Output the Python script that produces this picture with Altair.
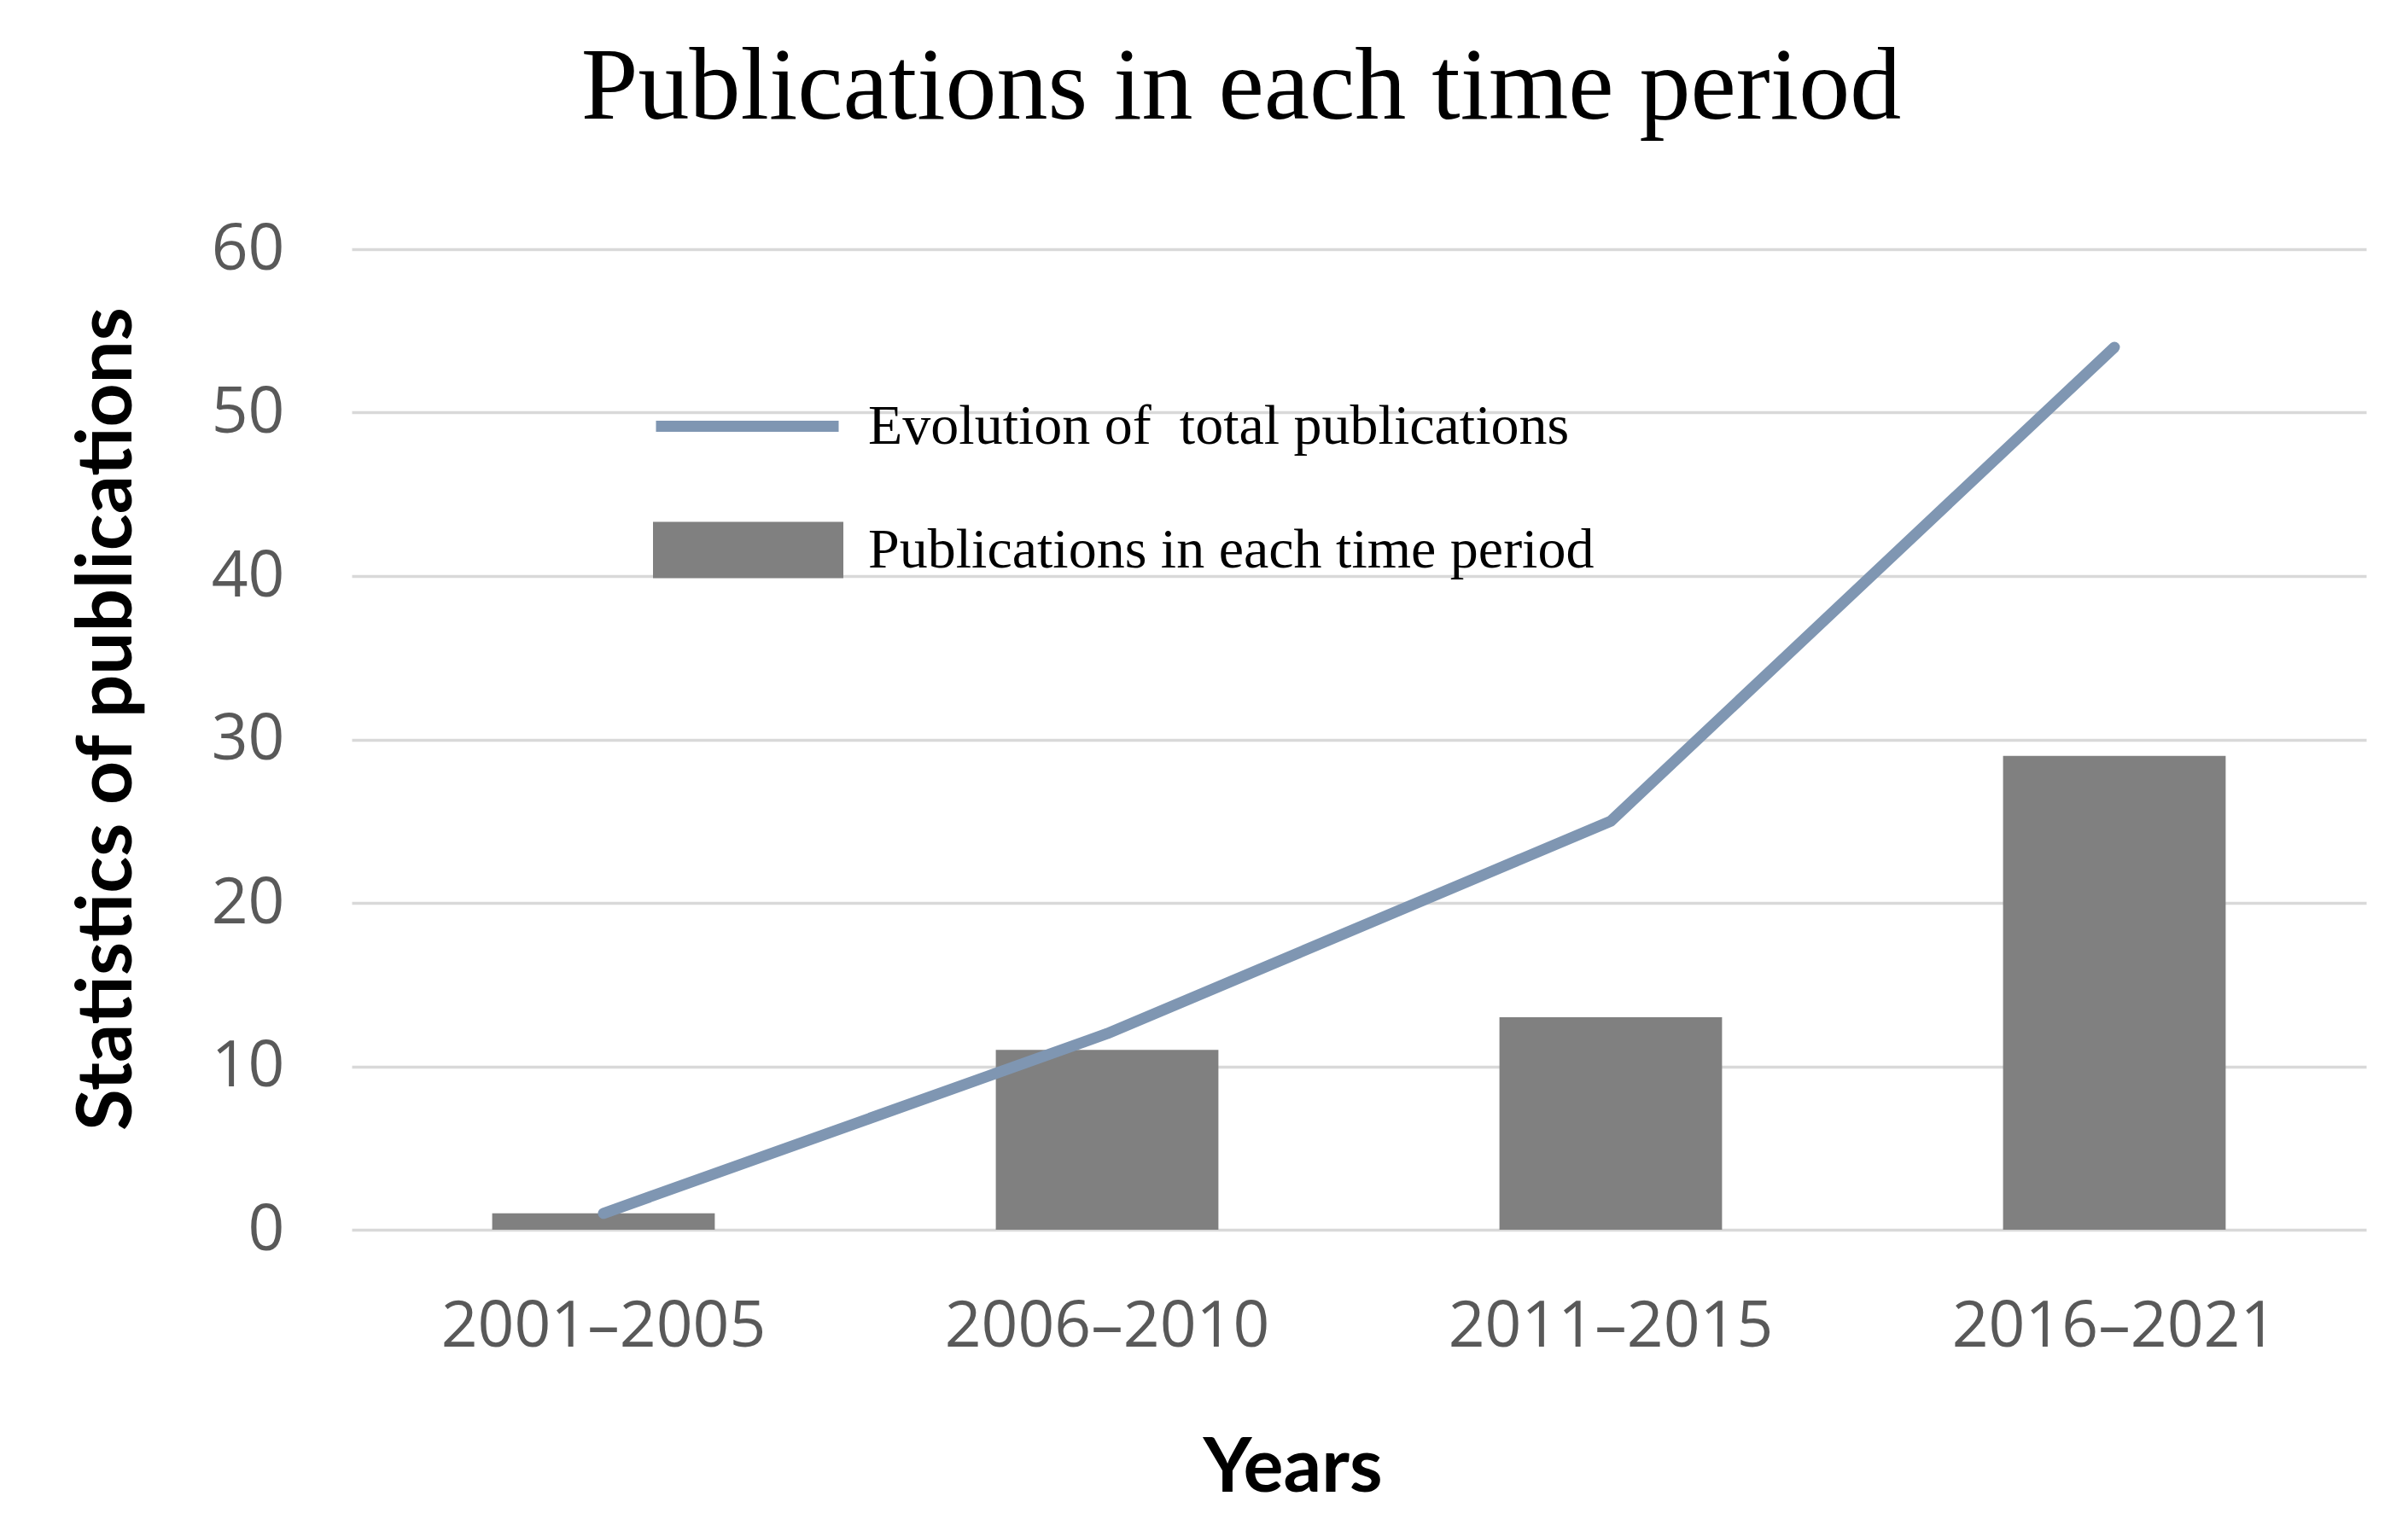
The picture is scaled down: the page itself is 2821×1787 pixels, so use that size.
import altair as alt
import pandas as pd

# ---- data ----
periods = ["2001–2005", "2006–2010", "2011–2015", "2016–2021"]
per_period = [1, 11, 13, 29]
cumulative = [1, 12, 25, 54]
y_ticks = [0, 10, 20, 30, 40, 50, 60]

line_label = "Evolution of \u00a0total publications"
bar_label = "Publications in each time period"
chart_title = "Publications in each time period"
x_title = "Years"
y_title = "Statistics of publications"

df = pd.DataFrame({
    "period": periods,
    "count": per_period,
    "total": cumulative,
    "bar_series": [bar_label] * len(periods),
    "line_series": [line_label] * len(periods),
})
title_df = pd.DataFrame({"title": [chart_title]})

LABEL_FONT = "Open Sans"
TITLE_FONT = "Lato"
SERIF = "Liberation Serif"
LINE_COLOR = "#7F96B2"
BAR_COLOR = "#808080"

x_axis = alt.Axis(
    title=x_title, labelAngle=0, labelFont=LABEL_FONT, labelFontSize=75,
    labelColor="#595959", labelBaseline="alphabetic", labelPadding=136,
    labelLimit=0, ticks=False, tickSize=0, domain=False, grid=False,
    titleFont=TITLE_FONT, titleFontSize=88, titleFontWeight="bold",
    titleColor="black", titleX=1102, titleY=306, titleAlign="center",
    titleBaseline="alphabetic",
)
y_axis = alt.Axis(
    title=y_title, values=y_ticks, labelFont=LABEL_FONT, labelFontSize=75,
    labelColor="#595959", labelPadding=79, ticks=False, tickSize=0,
    domain=False, grid=True, gridColor="#D9D9D9", gridWidth=3.5,
    titleFont=TITLE_FONT, titleFontSize=89, titleFontWeight="bold",
    titleColor="black", titleX=-259, titleY=550, titleAlign="center",
    titleBaseline="alphabetic",
)

x_enc = alt.X("period:N", sort=periods,
              scale=alt.Scale(paddingInner=0.558, paddingOuter=0.279),
              axis=x_axis)
y_scale = alt.Scale(domain=[0, 60])

bars = alt.Chart(df).mark_bar(strokeWidth=0).encode(
    x=x_enc,
    y=alt.Y("count:Q", scale=y_scale, axis=y_axis),
    fill=alt.Fill(
        "bar_series:N",
        scale=alt.Scale(domain=[bar_label], range=[BAR_COLOR]),
        legend=alt.Legend(
            title=None, orient="none", legendX=353, legendY=241,
            symbolType="M-1,-0.296H1V0.296H-1Z", symbolSize=49729,
            symbolStrokeWidth=0, symbolOpacity=1,
            labelFont=SERIF, labelFontSize=66, labelColor="black",
            labelOffset=29, padding=0, labelLimit=0,
        ),
    ),
)

line = alt.Chart(df).mark_line(strokeWidth=13, strokeCap="round", strokeJoin="round").encode(
    x=x_enc,
    y=alt.Y("total:Q", scale=y_scale, axis=y_axis),
    stroke=alt.Stroke(
        "line_series:N",
        scale=alt.Scale(domain=[line_label], range=[LINE_COLOR]),
        legend=alt.Legend(
            title=None, orient="none", legendX=350, legendY=94,
            symbolType="stroke", symbolSize=45796, symbolStrokeWidth=13,
            labelFont=SERIF, labelFontSize=66, labelColor="black",
            labelOffset=28, padding=0, labelLimit=0,
        ),
    ),
)

title_text = alt.Chart(title_df).mark_text(
    font=SERIF, fontSize=120, color="black", align="center",
    baseline="alphabetic",
).encode(
    text="title:N",
    x=alt.value(1042),
    y=alt.value(-153),
)

chart = alt.layer(bars, line, title_text).resolve_legend(
    fill="independent", stroke="independent"
).properties(
    width=2360,
    height=1149,
    background="white",
    autosize=alt.AutoSizeParams(type="none"),
    padding={"left": 404, "top": 284, "right": 41, "bottom": 338},
).configure_view(stroke=None)

chart.save("out.html", embed_options={"renderer": "svg", "actions": False})
